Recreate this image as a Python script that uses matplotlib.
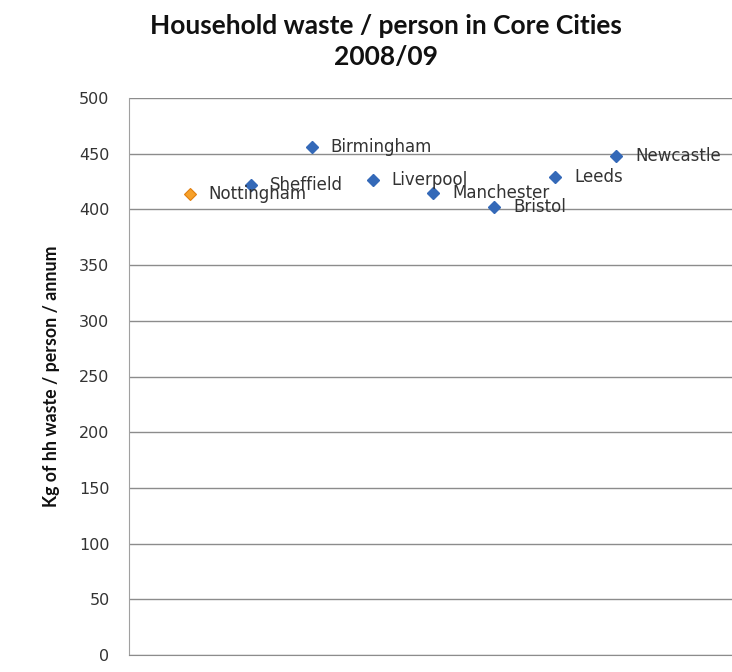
import matplotlib
matplotlib.use("Agg")
import matplotlib.pyplot as plt

cities = ["Nottingham", "Sheffield", "Birmingham", "Liverpool", "Manchester", "Bristol", "Leeds", "Newcastle"]
x_pos = [1, 2, 3, 4, 5, 6, 7, 8]
waste = [414, 422, 456, 426, 415, 402, 429, 448]
highlight = "Nottingham"
y_ticks = [0, 50, 100, 150, 200, 250, 300, 350, 400, 450, 500]

fig = plt.figure(figsize=(7.32, 6.72), dpi=100)
ax = fig.add_axes([129/732, 17/672, 609/732, 557/672])

blue = "#3469B8"
orange = "#F7A12A"
for c, xv, yv in zip(cities, x_pos, waste):
    if c == highlight:
        ax.plot(xv, yv, marker="D", ms=6.5, color=orange, mec="#E07F10", mew=0.8, ls="none", zorder=3)
    else:
        ax.plot(xv, yv, marker="D", ms=6.5, color=blue, mec=blue, ls="none", zorder=3)
    ax.annotate(c, (xv, yv), xytext=(13.5, 0), textcoords="offset points",
                va="center", ha="left", fontsize=12, color="#333333",
                family="DejaVu Sans", zorder=4)

ax.set_xlim(0, 10)
ax.set_ylim(0, 500)
ax.set_yticks(y_ticks)
ax.set_xticks([])
ax.grid(axis="y", color="#8C8C8C", lw=1.0)
ax.set_axisbelow(True)
for s in ["top", "right"]:
    ax.spines[s].set_visible(False)
ax.spines["left"].set_color("#A0A0A0")
ax.spines["bottom"].set_color("#8C8C8C")
ax.tick_params(axis="y", length=0, pad=14, labelsize=11.5, labelcolor="#333333")
ax.set_ylabel("Kg of hh waste / person / annum", family="Lato", fontweight="bold",
              fontsize=12.8, color="#111111", labelpad=14)

fig.text(386/732, 1 - 41/672, "Household waste / person in Core Cities\n2008/09",
         ha="center", va="center", family="Lato", fontweight="bold", fontsize=19,
         color="#111111", linespacing=1.35)

fig.savefig("out.png", dpi=100)
